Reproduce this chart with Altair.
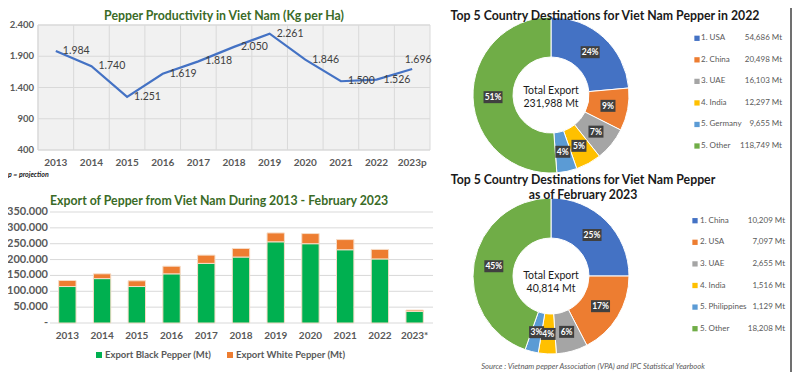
import altair as alt
import pandas as pd

# ---------------- data ----------------
years_prod = ["2013", "2014", "2015", "2016", "2017", "2018", "2019", "2020", "2021", "2022", "2023p"]
productivity = [1984, 1740, 1251, 1619, 1818, 2050, 2261, 1846, 1500, 1526, 1696]
prod_ticks = [400, 900, 1400, 1900, 2400]
prod_tick_labels = ["400", "900", "1.400", "1.900", "2.400"]

years_exp = ["2013", "2014", "2015", "2016", "2017", "2018", "2019", "2020", "2021", "2022", "2023*"]
black_pepper = [115000, 140000, 115000, 155000, 188000, 208000, 256000, 250000, 231000, 202000, 36500]
white_pepper = [19000, 15000, 18000, 24000, 26000, 27000, 28000, 32000, 32000, 30000, 4300]
exp_ticks = [0, 50000, 100000, 150000, 200000, 250000, 300000, 350000]
exp_tick_labels = ["-", "50.000", "100.000", "150.000", "200.000", "250.000", "300.000", "350.000"]
series = ["Export Black Pepper (Mt)", "Export White Pepper (Mt)"]

d22_names = ["1. USA", "2. China", "3. UAE", "4. India", "5. Germany", "5. Other"]
d22_values = [54686, 20498, 16103, 12297, 9655, 118749]
d22_pct = ["24%", "9%", "7%", "5%", "4%", "51%"]

d23_names = ["1. China", "2. USA", "3. UAE", "4. India", "5. Philippines", "5. Other"]
d23_values = [10209, 7097, 2655, 1516, 1129, 18208]
d23_pct = ["25%", "17%", "6%", "4%", "3%", "45%"]

title_prod = "Pepper Productivity in Viet Nam (Kg per Ha)"
title_exp = "Export of Pepper from Viet Nam During 2013 - February 2023"
title_d22 = "Top 5 Country Destinations for Viet Nam Pepper in 2022"
title_d23 = ["Top 5 Country Destinations for Viet Nam Pepper", "as of February 2023"]
note_text = "p = projection"
source_text = "Source : Vietnam pepper Association (VPA) and IPC Statistical Yearbook"

# ---------------- style ----------------
FONT = "Lato"
GRAY = "#595959"
GRID = "#d9d9d9"
GREEN_TITLE = "#3a6b27"
BAR_COLORS = ["#00B050", "#ED7D31"]
PIE_COLORS = ["#4472C4", "#ED7D31", "#A5A5A5", "#FFC000", "#5B9BD5", "#70AD47"]
TITLE_SIZE = 12.3
M = 8  # page margin


def p(v):
    return v - M


one = pd.DataFrame({"k": [0]})
layers = []

# ---------------- line chart ----------------
prod_df = pd.DataFrame({"year": years_prod, "prod": productivity})
prod_tick_df = pd.DataFrame({"v": prod_ticks, "label": prod_tick_labels})
xs_line = alt.Scale(type="band", domain=years_prod, range=[p(38), p(430)], paddingInner=0, paddingOuter=0)
ys_line = alt.Scale(type="linear", domain=[400, 2400], range=[p(150), p(25)], zero=False, nice=False)
X_line = alt.X("year:N", scale=xs_line, axis=None)

layers.append(alt.Chart(one).mark_rect(fill="#f1f1f1", stroke=GRID, strokeWidth=1).encode(
    x=alt.value(p(38)), x2=alt.value(p(430)), y=alt.value(p(25)), y2=alt.value(p(150))))
layers.append(alt.Chart(prod_df).mark_rule(color=GRID, strokeWidth=1).encode(
    x=alt.X("year:N", scale=xs_line, axis=None, bandPosition=0),
    y=alt.value(p(25)), y2=alt.value(p(150))))
layers.append(alt.Chart(prod_tick_df).mark_rule(color=GRID, strokeWidth=1).encode(
    y=alt.Y("v:Q", scale=ys_line, axis=None), x=alt.value(p(38)), x2=alt.value(p(430))))
layers.append(alt.Chart(prod_tick_df).mark_text(
    align="right", baseline="middle", font=FONT, fontSize=9.5, fontWeight="bold", color=GRAY).encode(
    y=alt.Y("v:Q", scale=ys_line, axis=None), x=alt.value(p(34)), text="label:N"))
layers.append(alt.Chart(prod_df).mark_text(
    align="center", baseline="middle", font=FONT, fontSize=10, fontWeight="bold", color=GRAY).encode(
    x=X_line, y=alt.value(p(163)), text="year:N"))
layers.append(alt.Chart(prod_df).mark_line(color="#4472C4", strokeWidth=2.2).encode(
    x=X_line, y=alt.Y("prod:Q", scale=ys_line, axis=None)))
lbl = "replace(format(datum.prod, ','), ',', '.')"
layers.append(alt.Chart(prod_df).transform_filter("datum.year != '2023p'").transform_calculate(lbl=lbl).mark_text(
    align="left", baseline="middle", dx=7, font=FONT, fontSize=10.5, color="#404040").encode(
    x=X_line, y=alt.Y("prod:Q", scale=ys_line, axis=None), text="lbl:N"))
layers.append(alt.Chart(prod_df).transform_filter("datum.year == '2023p'").transform_calculate(lbl=lbl).mark_text(
    align="center", baseline="middle", dx=6, dy=-9, font=FONT, fontSize=10.5, color="#404040").encode(
    x=X_line, y=alt.Y("prod:Q", scale=ys_line, axis=None), text="lbl:N"))
layers.append(alt.Chart(one).mark_text(
    text=title_prod, align="center", baseline="top", font=FONT, fontSize=TITLE_SIZE, fontWeight="bold",
    color=GREEN_TITLE).encode(x=alt.value(p(224)), y=alt.value(2)))
layers.append(alt.Chart(one).mark_text(
    text=note_text, align="left", baseline="middle", font=FONT, fontSize=7, fontWeight="bold",
    fontStyle="italic", color="#222222").encode(x=alt.value(0), y=alt.value(p(175))))

# ---------------- stacked bar chart ----------------
n = len(years_exp)
exp_df = pd.DataFrame({
    "year": years_exp + years_exp,
    "series": [series[0]] * n + [series[1]] * n,
    "value": black_pepper + white_pepper,
    "sidx": [0] * n + [1] * n,
})
exp_tick_df = pd.DataFrame({"v": exp_ticks, "label": exp_tick_labels})
xs_bar = alt.Scale(type="band", domain=years_exp, range=[p(50), p(432)], paddingInner=0.5, paddingOuter=0.25)
ys_bar = alt.Scale(type="linear", domain=[0, 350000], range=[p(323), p(212)], nice=False)
bar_color = alt.Scale(domain=series, range=BAR_COLORS)
X_bar = alt.X("year:N", scale=xs_bar, axis=None)

layers.append(alt.Chart(exp_tick_df).mark_rule(color=GRID, strokeWidth=1).encode(
    y=alt.Y("v:Q", scale=ys_bar, axis=None), x=alt.value(p(50)), x2=alt.value(p(433))))
layers.append(alt.Chart(exp_tick_df).mark_text(
    align="right", baseline="middle", font=FONT, fontSize=11, fontWeight="bold", color=GRAY).encode(
    y=alt.Y("v:Q", scale=ys_bar, axis=None), x=alt.value(p(48)), text="label:N"))
layers.append(alt.Chart(exp_df).mark_bar(stroke="#f6dcc6", strokeWidth=1).encode(
    x=X_bar,
    y=alt.Y("value:Q", scale=ys_bar, axis=None, stack="zero"),
    color=alt.Color("series:N", scale=bar_color, legend=None),
    order=alt.Order("sidx:Q", sort="ascending")))
layers.append(alt.Chart(pd.DataFrame({"year": years_exp})).mark_text(
    align="center", baseline="middle", font=FONT, fontSize=10, fontWeight="bold", color=GRAY).encode(
    x=X_bar, y=alt.value(p(336)), text="year:N"))
layers.append(alt.Chart(one).mark_text(
    text=title_exp, align="left", baseline="middle", font=FONT, fontSize=TITLE_SIZE, fontWeight="bold",
    color=GREEN_TITLE).encode(x=alt.value(p(50)), y=alt.value(p(201))))
leg_df = pd.DataFrame({"series": series})
xs_leg = alt.Scale(type="point", domain=series, range=[p(99), p(230)], padding=0)
layers.append(alt.Chart(leg_df).mark_square(size=36, opacity=1).encode(
    x=alt.X("series:N", scale=xs_leg, axis=None), y=alt.value(p(355)),
    color=alt.Color("series:N", scale=bar_color, legend=None)))
layers.append(alt.Chart(leg_df).mark_text(
    align="left", baseline="middle", dx=6, font=FONT, fontSize=9.5, fontWeight="bold", color=GRAY).encode(
    x=alt.X("series:N", scale=xs_leg, axis=None), y=alt.value(p(355)), text="series:N"))


# ---------------- donuts ----------------
def donut(names, values, pcts, cx, cy, ctext_y, row0, row1, sq_x, txt_x, val_x):
    df = pd.DataFrame({"name": names, "value": values, "pct": pcts, "idx": list(range(len(names)))})
    cscale = alt.Scale(domain=names, range=PIE_COLORS)
    xs = alt.Scale(domain=[-100, 100], range=[p(cx) - 100, p(cx) + 100], zero=False, nice=False)
    ys = alt.Scale(domain=[-100, 100], range=[p(cy) + 100, p(cy) - 100], zero=False, nice=False)
    out = []
    out.append(alt.Chart(df).mark_arc(outerRadius=78, innerRadius=38, stroke="white", strokeWidth=1).encode(
        theta=alt.Theta("value:Q", stack=True),
        color=alt.Color("name:N", scale=cscale, legend=None),
        order=alt.Order("idx:Q", sort="ascending"),
        x=alt.value(p(cx)), y=alt.value(p(cy))))
    base = alt.Chart(df).transform_joinaggregate(total="sum(value)").transform_window(
        cum="sum(value)", sort=[alt.SortField("idx", order="ascending")], frame=[None, 0]
    ).transform_calculate(
        mid="2 * PI * (datum.cum - datum.value / 2) / datum.total",
        lx="58 * sin(datum.mid)",
        ly="58 * cos(datum.mid)",
        shp="length(datum.pct) > 2 ? 'M-0.95,-0.6H0.95V0.6H-0.95Z' : 'M-0.75,-0.6H0.75V0.6H-0.75Z'",
    )
    out.append(base.mark_point(filled=True, color="#404040", opacity=1, size=400).encode(
        x=alt.X("lx:Q", scale=xs, axis=None), y=alt.Y("ly:Q", scale=ys, axis=None),
        shape=alt.Shape("shp:N", scale=None)))
    out.append(base.mark_text(align="center", baseline="middle", font=FONT, fontSize=8.5,
                              fontWeight="bold", color="white").encode(
        x=alt.X("lx:Q", scale=xs, axis=None), y=alt.Y("ly:Q", scale=ys, axis=None), text="pct:N"))
    out.append(alt.Chart(df).transform_aggregate(total="sum(value)").transform_calculate(
        ctext="'Total Export\\n' + format(datum.total, ',') + ' Mt'"
    ).mark_text(align="center", baseline="middle", lineBreak="\n", lineHeight=12.5, font=FONT,
                fontSize=10.5, color="#1a1a1a").encode(
        x=alt.value(p(cx)), y=alt.value(p(ctext_y)), text="ctext:N"))
    ys_leg = alt.Scale(type="point", domain=names, range=[p(row0), p(row1)], padding=0)
    Y_leg = alt.Y("name:N", scale=ys_leg, axis=None)
    out.append(alt.Chart(df).mark_square(size=28, opacity=1).encode(
        x=alt.value(p(sq_x)), y=Y_leg, color=alt.Color("name:N", scale=cscale, legend=None)))
    out.append(alt.Chart(df).mark_text(align="left", baseline="middle", font=FONT, fontSize=8,
                                       color=GRAY).encode(
        x=alt.value(p(txt_x)), y=Y_leg, text="name:N"))
    out.append(alt.Chart(df).transform_calculate(vl="format(datum.value, ',') + ' Mt'").mark_text(
        align="right", baseline="middle", font=FONT, fontSize=8, color=GRAY).encode(
        x=alt.value(p(val_x)), y=Y_leg, text="vl:N"))
    return out


layers += donut(d22_names, d22_values, d22_pct, 551, 95, 91, 38.3, 146, 697, 701, 782)
layers += donut(d23_names, d23_values, d23_pct, 551, 276, 276, 220.7, 328.7, 695, 700, 785)

layers.append(alt.Chart(one).mark_text(
    text=title_d22, align="center", baseline="top", font=FONT, fontSize=TITLE_SIZE, fontWeight="bold",
    color="#1a1a1a").encode(x=alt.value(p(605)), y=alt.value(2)))
layers.append(alt.Chart(one).mark_text(
    text=title_d23, align="center", baseline="middle", lineHeight=15, font=FONT, fontSize=TITLE_SIZE,
    fontWeight="bold", color="#1a1a1a").encode(x=alt.value(p(583)), y=alt.value(p(180))))
layers.append(alt.Chart(one).mark_text(
    text=source_text, align="center", baseline="bottom", font=FONT, fontSize=7.6, fontStyle="italic",
    color=GRAY).encode(x=alt.value(p(593)), y=alt.value(363)))
layers.append(alt.Chart(one).mark_rule(color="#404040", strokeWidth=1.5).encode(
    x=alt.value(783), y=alt.value(0), y2=alt.value(364)))

chart = alt.layer(*layers).resolve_scale(
    x="independent", y="independent", color="independent", theta="independent"
).properties(
    width=784, height=364, padding=0, autosize="none", background="white"
).configure_view(strokeWidth=0)

chart.save("out.html", embed_options={"renderer": "svg", "actions": False})
